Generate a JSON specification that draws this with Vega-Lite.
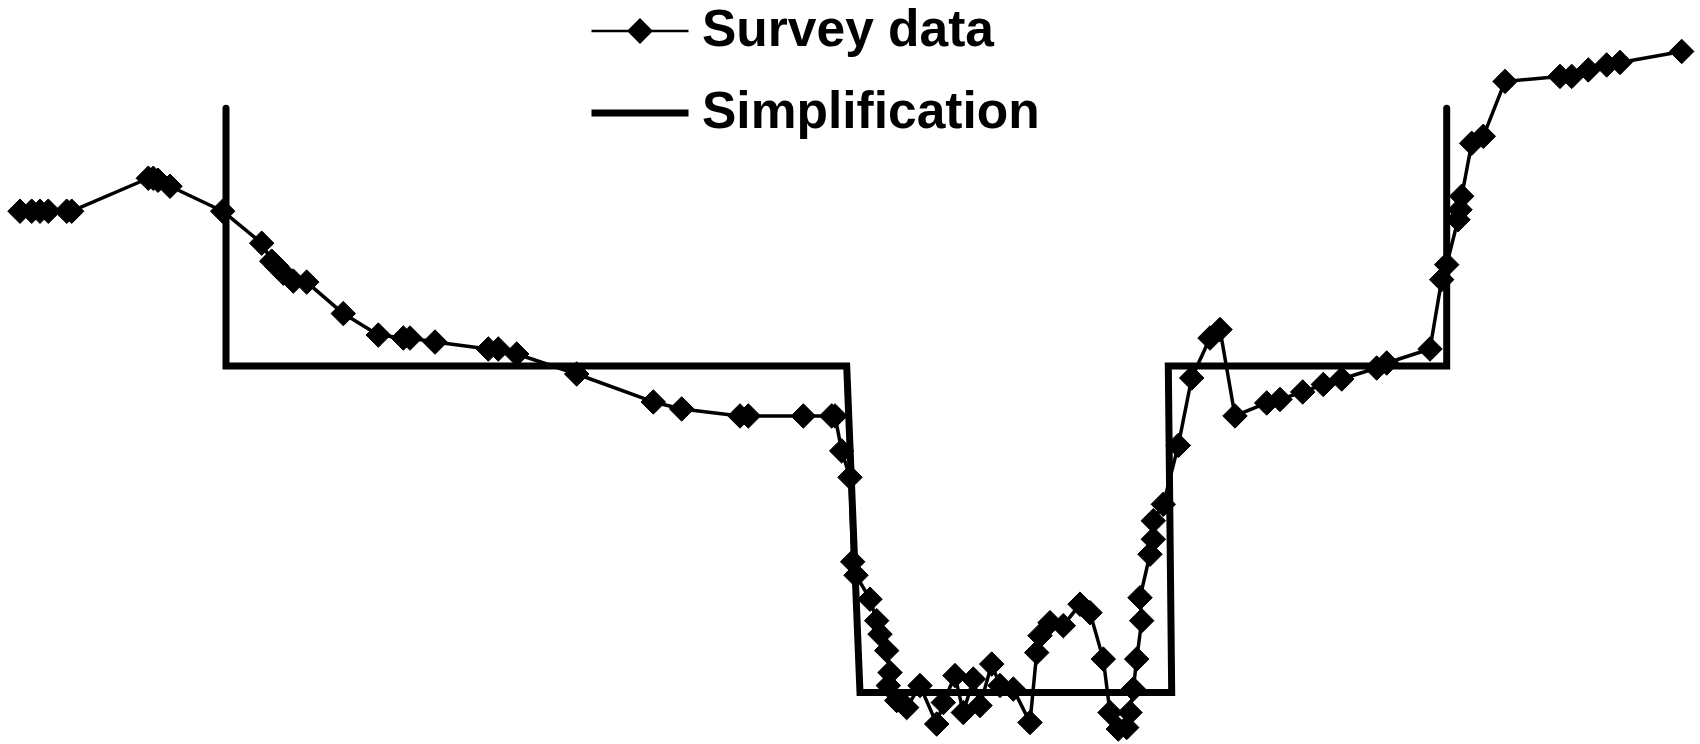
{
  "$schema": "https://vega.github.io/schema/vega-lite/v6.json",
  "width": 1700,
  "height": 744,
  "autosize": {"type": "fit", "contains": "padding"},
  "padding": 0,
  "background": "white",
  "config": {"view": {"stroke": null}},
  "data": {"values": [
    {"series": "Simplification", "i": 1, "dist": 22.6, "elev": 12.71},
    {"series": "Simplification", "i": 2, "dist": 22.6, "elev": 7.55},
    {"series": "Simplification", "i": 3, "dist": 84.67, "elev": 7.55},
    {"series": "Simplification", "i": 4, "dist": 86.0, "elev": 1.01},
    {"series": "Simplification", "i": 5, "dist": 117.17, "elev": 1.01},
    {"series": "Simplification", "i": 6, "dist": 116.83, "elev": 7.55},
    {"series": "Simplification", "i": 7, "dist": 144.67, "elev": 7.55},
    {"series": "Simplification", "i": 8, "dist": 144.67, "elev": 12.71},
    {"series": "Survey data", "i": 1, "dist": 2.0, "elev": 10.65},
    {"series": "Survey data", "i": 2, "dist": 3.17, "elev": 10.65},
    {"series": "Survey data", "i": 3, "dist": 4.0, "elev": 10.65},
    {"series": "Survey data", "i": 4, "dist": 4.83, "elev": 10.65},
    {"series": "Survey data", "i": 5, "dist": 6.67, "elev": 10.65},
    {"series": "Survey data", "i": 6, "dist": 7.17, "elev": 10.65},
    {"series": "Survey data", "i": 7, "dist": 14.83, "elev": 11.31},
    {"series": "Survey data", "i": 8, "dist": 15.33, "elev": 11.31},
    {"series": "Survey data", "i": 9, "dist": 15.8, "elev": 11.27},
    {"series": "Survey data", "i": 10, "dist": 17.0, "elev": 11.15},
    {"series": "Survey data", "i": 11, "dist": 22.27, "elev": 10.65},
    {"series": "Survey data", "i": 12, "dist": 26.17, "elev": 10.01},
    {"series": "Survey data", "i": 13, "dist": 27.17, "elev": 9.65},
    {"series": "Survey data", "i": 14, "dist": 27.67, "elev": 9.55},
    {"series": "Survey data", "i": 15, "dist": 28.33, "elev": 9.41},
    {"series": "Survey data", "i": 16, "dist": 29.33, "elev": 9.25},
    {"series": "Survey data", "i": 17, "dist": 30.67, "elev": 9.23},
    {"series": "Survey data", "i": 18, "dist": 34.33, "elev": 8.6},
    {"series": "Survey data", "i": 19, "dist": 37.83, "elev": 8.17},
    {"series": "Survey data", "i": 20, "dist": 40.33, "elev": 8.11},
    {"series": "Survey data", "i": 21, "dist": 41.0, "elev": 8.11},
    {"series": "Survey data", "i": 22, "dist": 43.5, "elev": 8.03},
    {"series": "Survey data", "i": 23, "dist": 48.83, "elev": 7.89},
    {"series": "Survey data", "i": 24, "dist": 49.83, "elev": 7.89},
    {"series": "Survey data", "i": 25, "dist": 51.67, "elev": 7.79},
    {"series": "Survey data", "i": 26, "dist": 57.67, "elev": 7.39},
    {"series": "Survey data", "i": 27, "dist": 65.33, "elev": 6.83},
    {"series": "Survey data", "i": 28, "dist": 68.17, "elev": 6.69},
    {"series": "Survey data", "i": 29, "dist": 74.0, "elev": 6.55},
    {"series": "Survey data", "i": 30, "dist": 74.83, "elev": 6.55},
    {"series": "Survey data", "i": 31, "dist": 80.33, "elev": 6.55},
    {"series": "Survey data", "i": 32, "dist": 83.17, "elev": 6.55},
    {"series": "Survey data", "i": 33, "dist": 83.5, "elev": 6.55},
    {"series": "Survey data", "i": 34, "dist": 84.17, "elev": 5.85},
    {"series": "Survey data", "i": 35, "dist": 85.0, "elev": 5.32},
    {"series": "Survey data", "i": 36, "dist": 85.27, "elev": 3.63},
    {"series": "Survey data", "i": 37, "dist": 85.6, "elev": 3.36},
    {"series": "Survey data", "i": 38, "dist": 87.0, "elev": 2.88},
    {"series": "Survey data", "i": 39, "dist": 87.67, "elev": 2.45},
    {"series": "Survey data", "i": 40, "dist": 88.0, "elev": 2.18},
    {"series": "Survey data", "i": 41, "dist": 88.67, "elev": 1.85},
    {"series": "Survey data", "i": 42, "dist": 89.0, "elev": 1.41},
    {"series": "Survey data", "i": 43, "dist": 88.83, "elev": 1.15},
    {"series": "Survey data", "i": 44, "dist": 89.67, "elev": 0.85},
    {"series": "Survey data", "i": 45, "dist": 90.67, "elev": 0.71},
    {"series": "Survey data", "i": 46, "dist": 92.0, "elev": 1.15},
    {"series": "Survey data", "i": 47, "dist": 93.67, "elev": 0.38},
    {"series": "Survey data", "i": 48, "dist": 94.33, "elev": 0.81},
    {"series": "Survey data", "i": 49, "dist": 95.5, "elev": 1.35},
    {"series": "Survey data", "i": 50, "dist": 96.33, "elev": 0.61},
    {"series": "Survey data", "i": 51, "dist": 97.33, "elev": 1.28},
    {"series": "Survey data", "i": 52, "dist": 98.0, "elev": 0.75},
    {"series": "Survey data", "i": 53, "dist": 99.17, "elev": 1.58},
    {"series": "Survey data", "i": 54, "dist": 100.0, "elev": 1.15},
    {"series": "Survey data", "i": 55, "dist": 101.33, "elev": 1.08},
    {"series": "Survey data", "i": 56, "dist": 103.0, "elev": 0.41},
    {"series": "Survey data", "i": 57, "dist": 103.67, "elev": 1.81},
    {"series": "Survey data", "i": 58, "dist": 104.0, "elev": 2.15},
    {"series": "Survey data", "i": 59, "dist": 105.0, "elev": 2.41},
    {"series": "Survey data", "i": 60, "dist": 106.33, "elev": 2.35},
    {"series": "Survey data", "i": 61, "dist": 108.0, "elev": 2.78},
    {"series": "Survey data", "i": 62, "dist": 109.0, "elev": 2.61},
    {"series": "Survey data", "i": 63, "dist": 110.33, "elev": 1.68},
    {"series": "Survey data", "i": 64, "dist": 111.0, "elev": 0.61},
    {"series": "Survey data", "i": 65, "dist": 111.83, "elev": 0.28},
    {"series": "Survey data", "i": 66, "dist": 112.67, "elev": 0.31},
    {"series": "Survey data", "i": 67, "dist": 113.0, "elev": 0.61},
    {"series": "Survey data", "i": 68, "dist": 113.33, "elev": 1.08},
    {"series": "Survey data", "i": 69, "dist": 113.67, "elev": 1.68},
    {"series": "Survey data", "i": 70, "dist": 114.17, "elev": 2.45},
    {"series": "Survey data", "i": 71, "dist": 114.0, "elev": 2.91},
    {"series": "Survey data", "i": 72, "dist": 115.0, "elev": 3.78},
    {"series": "Survey data", "i": 73, "dist": 115.33, "elev": 4.08},
    {"series": "Survey data", "i": 74, "dist": 115.33, "elev": 4.45},
    {"series": "Survey data", "i": 75, "dist": 116.33, "elev": 4.78},
    {"series": "Survey data", "i": 76, "dist": 117.83, "elev": 5.96},
    {"series": "Survey data", "i": 77, "dist": 119.17, "elev": 7.31},
    {"series": "Survey data", "i": 78, "dist": 121.0, "elev": 8.11},
    {"series": "Survey data", "i": 79, "dist": 122.0, "elev": 8.28},
    {"series": "Survey data", "i": 80, "dist": 123.5, "elev": 6.55},
    {"series": "Survey data", "i": 81, "dist": 126.67, "elev": 6.81},
    {"series": "Survey data", "i": 82, "dist": 128.0, "elev": 6.88},
    {"series": "Survey data", "i": 83, "dist": 130.27, "elev": 7.03},
    {"series": "Survey data", "i": 84, "dist": 132.33, "elev": 7.18},
    {"series": "Survey data", "i": 85, "dist": 134.17, "elev": 7.29},
    {"series": "Survey data", "i": 86, "dist": 137.67, "elev": 7.51},
    {"series": "Survey data", "i": 87, "dist": 138.67, "elev": 7.61},
    {"series": "Survey data", "i": 88, "dist": 143.0, "elev": 7.89},
    {"series": "Survey data", "i": 89, "dist": 144.17, "elev": 9.28},
    {"series": "Survey data", "i": 90, "dist": 144.67, "elev": 9.58},
    {"series": "Survey data", "i": 91, "dist": 145.8, "elev": 10.48},
    {"series": "Survey data", "i": 92, "dist": 146.0, "elev": 10.68},
    {"series": "Survey data", "i": 93, "dist": 146.17, "elev": 10.95},
    {"series": "Survey data", "i": 94, "dist": 147.17, "elev": 12.01},
    {"series": "Survey data", "i": 95, "dist": 148.33, "elev": 12.15},
    {"series": "Survey data", "i": 96, "dist": 150.5, "elev": 13.25},
    {"series": "Survey data", "i": 97, "dist": 156.0, "elev": 13.35},
    {"series": "Survey data", "i": 98, "dist": 157.17, "elev": 13.35},
    {"series": "Survey data", "i": 99, "dist": 158.83, "elev": 13.48},
    {"series": "Survey data", "i": 100, "dist": 160.67, "elev": 13.58},
    {"series": "Survey data", "i": 101, "dist": 162.0, "elev": 13.63},
    {"series": "Survey data", "i": 102, "dist": 168.17, "elev": 13.85}
  ]},
  "encoding": {
    "x": {"field": "dist", "type": "quantitative", "scale": {"domain": [0, 170], "nice": false, "zero": false}, "axis": null},
    "y": {"field": "elev", "type": "quantitative", "scale": {"domain": [0, 14.88], "nice": false, "zero": false}, "axis": null},
    "order": {"field": "i", "type": "quantitative"}
  },
  "layer": [
    {
      "transform": [{"filter": "datum.series === 'Simplification'"}],
      "mark": {"type": "line", "color": "black", "strokeWidth": 7, "strokeCap": "round", "strokeJoin": "miter"}
    },
    {
      "transform": [{"filter": "datum.series === 'Survey data'"}],
      "mark": {"type": "line", "color": "black", "strokeWidth": 3.5, "strokeJoin": "round"}
    },
    {
      "transform": [{"filter": "datum.series === 'Survey data'"}],
      "mark": {"type": "point", "shape": "M-1,0L0,-1L1,0L0,1Z", "filled": true, "color": "black", "size": 600, "opacity": 1, "stroke": "black", "strokeWidth": 1}
    },
    {
      "mark": {"type": "point", "filled": true, "opacity": 0},
      "encoding": {
        "shape": {
          "field": "series", "type": "nominal",
          "scale": {"domain": ["Survey data", "Simplification"], "range": ["M-1,0L1,0M-0.23,0L0,-0.23L0.23,0L0,0.23Z", "M-1,0L1,0"]},
          "legend": {
            "title": null, "orient": "none", "legendX": 588, "legendY": -19,
            "padding": 0, "symbolSize": 9409, "symbolOpacity": 1,
            "symbolStrokeWidth": 3,
            "labelFont": "Liberation Sans", "labelFontSize": 51.5, "labelFontWeight": "bold", "labelColor": "black",
            "labelLimit": 0, "labelOffset": 10, "rowPadding": 4
          }
        },
        "fill": {
          "field": "series", "type": "nominal",
          "scale": {"domain": ["Survey data", "Simplification"], "range": ["black", "black"]}
        },
        "stroke": {
          "field": "series", "type": "nominal",
          "scale": {"domain": ["Survey data", "Simplification"], "range": ["black", "black"]}
        },
        "strokeWidth": {
          "field": "series", "type": "nominal",
          "scale": {"type": "ordinal", "domain": ["Survey data", "Simplification"], "range": [2.5, 7]}
        }
      }
    }
  ]
}
